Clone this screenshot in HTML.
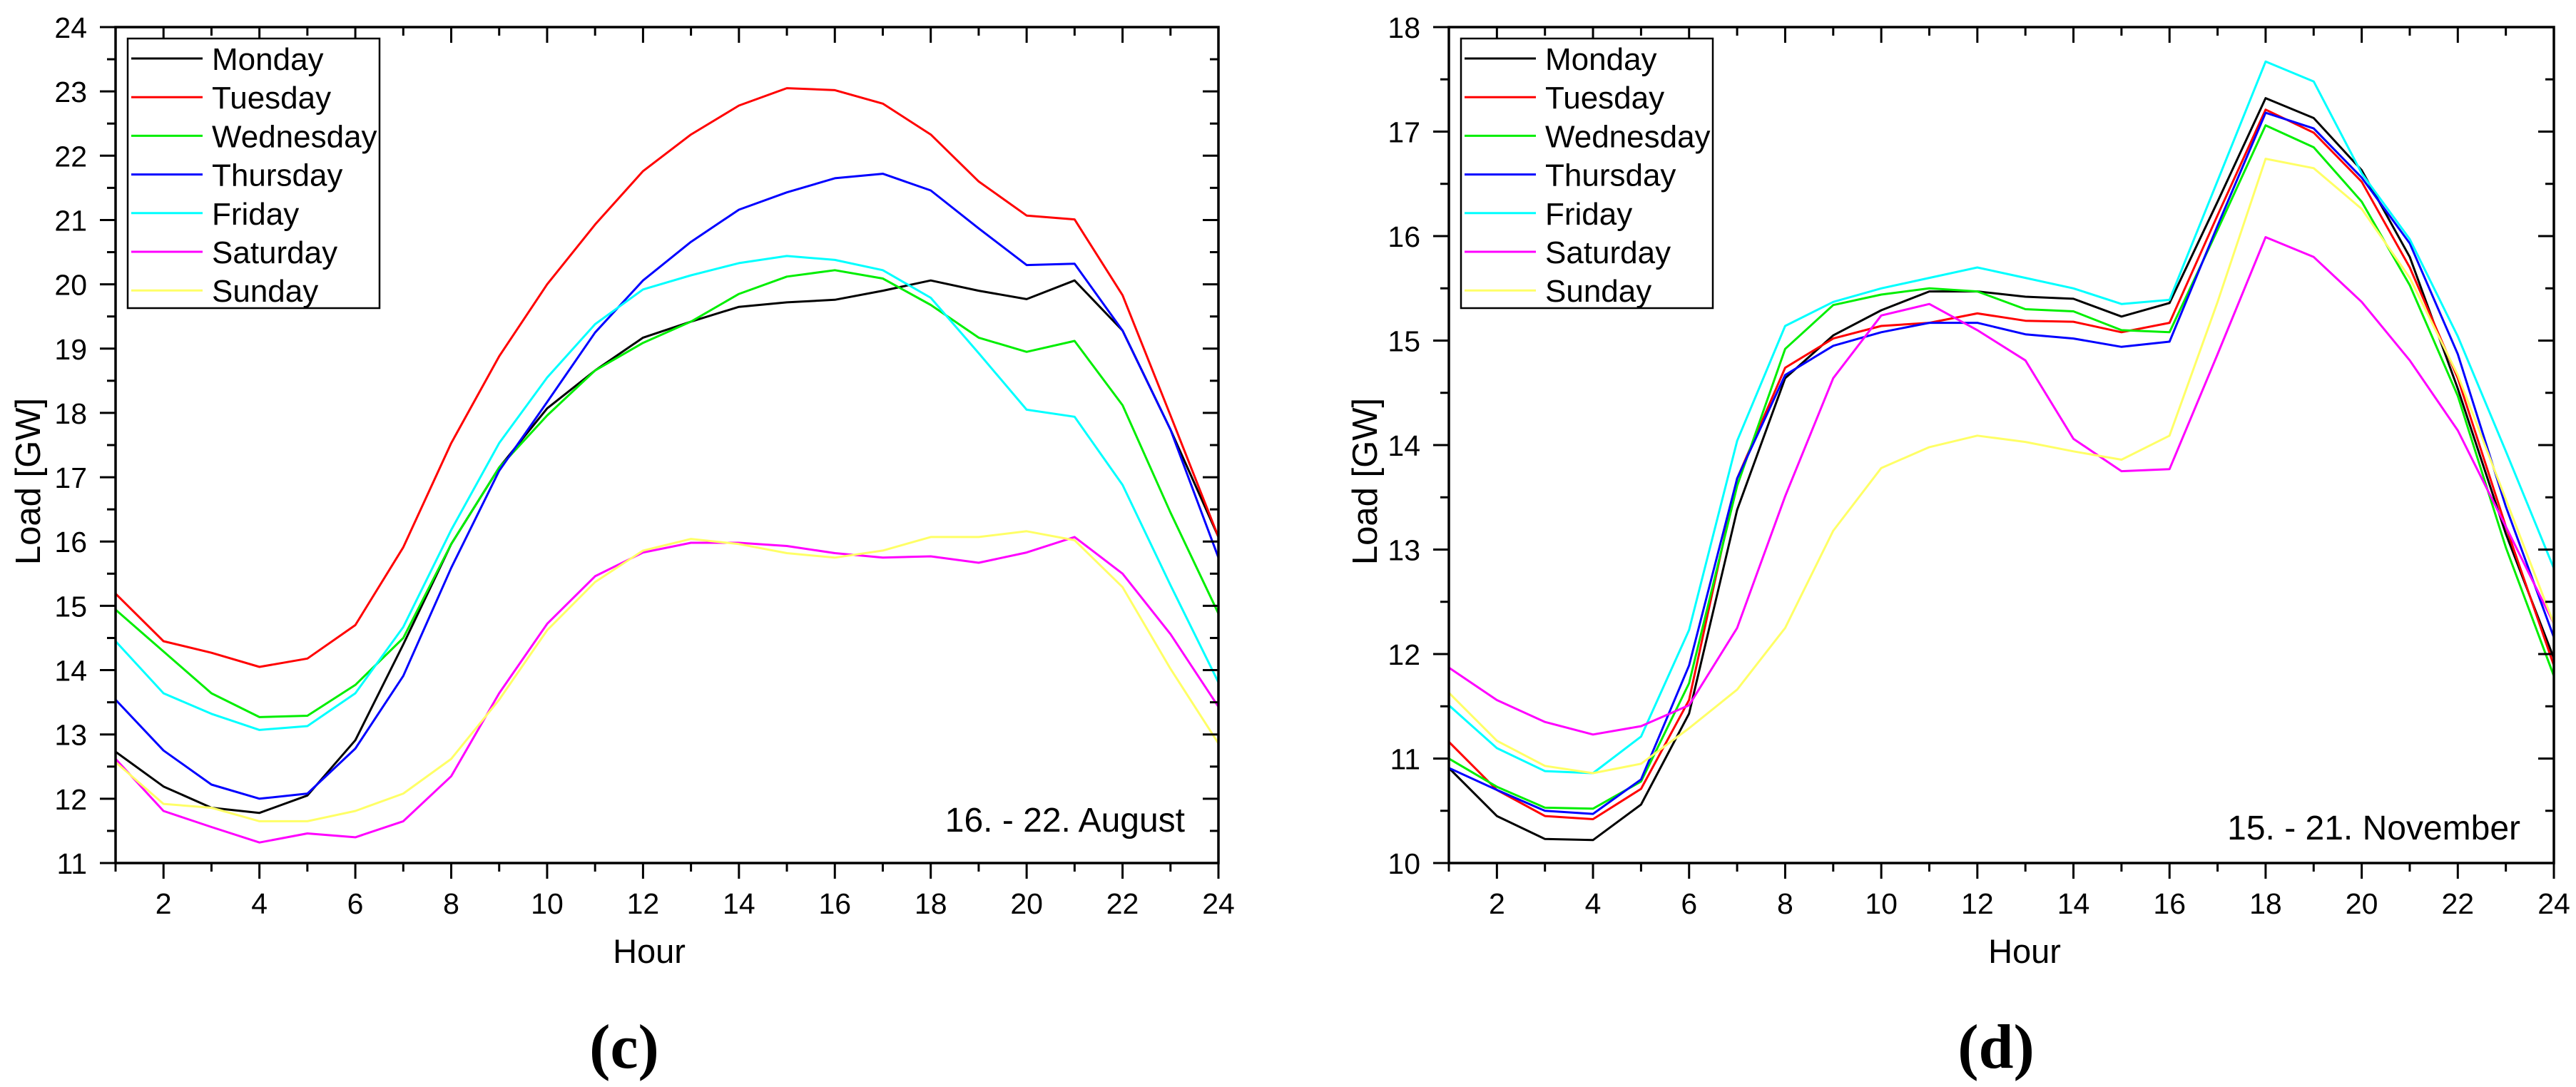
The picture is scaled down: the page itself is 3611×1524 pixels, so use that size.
<!DOCTYPE html>
<html><head><meta charset="utf-8"><style>
html,body{margin:0;padding:0;background:#fff;}
svg{display:block;font-family:"Liberation Sans",sans-serif;}
</style></head><body>
<svg id="fig" width="3611" height="1524" viewBox="0 0 3611 1524" xmlns="http://www.w3.org/2000/svg"></svg>
<script>
const hours = [1,2,3,4,5,6,7,8,9,10,11,12,13,14,15,16,17,18,19,20,21,22,23,24];
const dayNames = ["Monday","Tuesday","Wednesday","Thursday","Friday","Saturday","Sunday"];
const dayColors = ["#000000","#ff0000","#00ee00","#0000ff","#00ffff","#ff00ff","#ffff66"];
const xTickLabels = [2,4,6,8,10,12,14,16,18,20,22,24];
const augTickLabels = [11,12,13,14,15,16,17,18,19,20,21,22,23,24];
const novTickLabels = [10,11,12,13,14,15,16,17,18];

const augMonday = [12.73,12.19,11.86,11.78,12.05,12.91,14.4,15.96,17.15,18.07,18.66,19.17,19.42,19.65,19.72,19.76,19.9,20.06,19.9,19.77,20.06,19.28,17.74,16.07];
const augTuesday = [15.19,14.45,14.27,14.05,14.18,14.7,15.91,17.53,18.88,20.0,20.93,21.76,22.33,22.78,23.05,23.02,22.81,22.33,21.6,21.07,21.01,19.83,17.96,16.07];
const augWednesday = [14.94,14.29,13.64,13.27,13.29,13.77,14.5,15.96,17.15,17.96,18.66,19.09,19.42,19.85,20.12,20.22,20.09,19.68,19.17,18.95,19.12,18.12,16.45,14.88];
const augThursday = [13.54,12.75,12.22,12.0,12.08,12.78,13.91,15.59,17.1,18.17,19.25,20.06,20.66,21.16,21.43,21.65,21.72,21.46,20.87,20.3,20.32,19.28,17.74,15.75];
const augFriday = [14.45,13.64,13.32,13.07,13.13,13.64,14.67,16.18,17.53,18.55,19.38,19.92,20.14,20.33,20.44,20.38,20.22,19.79,18.93,18.05,17.94,16.88,15.32,13.81];
const augSaturday = [12.62,11.81,11.56,11.32,11.46,11.4,11.65,12.35,13.64,14.72,15.46,15.83,15.98,15.98,15.93,15.82,15.75,15.77,15.67,15.83,16.07,15.5,14.56,13.43];
const augSunday = [12.57,11.92,11.86,11.65,11.65,11.81,12.08,12.62,13.54,14.62,15.37,15.86,16.04,15.96,15.82,15.75,15.86,16.07,16.07,16.16,16.02,15.29,14.02,12.86];

const novMonday = [10.91,10.45,10.23,10.22,10.56,11.43,13.38,14.64,15.05,15.29,15.47,15.47,15.42,15.4,15.23,15.36,16.33,17.32,17.13,16.63,15.8,14.54,13.15,11.96];
const novTuesday = [11.16,10.7,10.45,10.42,10.71,11.56,13.68,14.74,15.02,15.14,15.17,15.26,15.19,15.18,15.08,15.17,16.2,17.21,16.99,16.52,15.7,14.64,13.22,11.89];
const novWednesday = [11.0,10.73,10.53,10.52,10.78,11.72,13.61,14.92,15.34,15.44,15.5,15.47,15.3,15.28,15.1,15.08,16.06,17.06,16.85,16.33,15.53,14.47,13.02,11.79];
const novThursday = [10.91,10.7,10.5,10.47,10.8,11.89,13.68,14.67,14.95,15.08,15.17,15.17,15.06,15.02,14.94,14.99,16.1,17.18,17.03,16.56,15.93,14.87,13.41,12.16];
const novFriday = [11.51,11.1,10.88,10.86,11.21,12.23,14.04,15.14,15.37,15.5,15.6,15.7,15.6,15.5,15.35,15.39,16.53,17.67,17.48,16.6,15.97,15.04,13.94,12.82];
const novSaturday = [11.87,11.56,11.35,11.23,11.31,11.51,12.25,13.51,14.64,15.24,15.35,15.1,14.81,14.06,13.75,13.77,14.87,15.99,15.8,15.37,14.81,14.14,13.22,12.29];
const novSunday = [11.63,11.17,10.93,10.86,10.95,11.29,11.66,12.25,13.18,13.78,13.98,14.09,14.03,13.94,13.86,14.09,15.37,16.74,16.65,16.26,15.6,14.67,13.48,12.29];

const augSeries = [augMonday,augTuesday,augWednesday,augThursday,augFriday,augSaturday,augSunday];
const novSeries = [novMonday,novTuesday,novWednesday,novThursday,novFriday,novSaturday,novSunday];

const NS = "http://www.w3.org/2000/svg";
const svg = document.getElementById('fig');
function mk(tag, attrs, parent){
  const e = document.createElementNS(NS, tag);
  for (const k in attrs) e.setAttribute(k, attrs[k]);
  (parent||svg).appendChild(e);
  return e;
}

function chart(cfg){
  const g = mk('g', {});
  
  
  const L = cfg.left, R = cfg.right, T = 38, B = 1210;
  const xs = h => L + (h - 1) / 23 * (R - L);
  const ys = v => B - (v - cfg.ymin) / (cfg.ymax - cfg.ymin) * (B - T);

  // series
  cfg.series.forEach((vals, i) => {
    const pts = vals.map((v, j) => xs(hours[j]).toFixed(1) + ',' + ys(v).toFixed(1)).join(' ');
    const pl = mk('polyline', {points: pts, fill: 'none', stroke: dayColors[i], 'stroke-width': 3, 'stroke-linejoin': 'round'}, g);
    
    
  });

  // frame
  const fr = mk('rect', {x: L, y: T, width: R - L, height: B - T, fill: 'none', stroke: '#000', 'stroke-width': 3.5}, g);
  
  

  // x ticks
  for (let h = 1; h <= 24; h++) {
    const x = xs(h), major = h % 2 === 0, len = major ? 22 : 12;
    mk('line', {x1: x, y1: B, x2: x, y2: B + len, stroke: '#000', 'stroke-width': 3}, g);
    mk('line', {x1: x, y1: T, x2: x, y2: T + len, stroke: '#000', 'stroke-width': 3}, g);
  }
  xTickLabels.forEach(h => {
    const t = mk('text', {x: xs(h), y: 1281, 'font-size': 41, 'text-anchor': 'middle'}, g);
    t.textContent = h;
    
    
  });
  // y ticks
  for (let v = cfg.ymin; v <= cfg.ymax + 1e-9; v += 0.5) {
    const y = ys(v), major = Math.abs(v - Math.round(v)) < 1e-9, len = major ? 22 : 12;
    mk('line', {x1: L - len, y1: y, x2: L, y2: y, stroke: '#000', 'stroke-width': 3}, g);
    mk('line', {x1: R - len, y1: y, x2: R, y2: y, stroke: '#000', 'stroke-width': 3}, g);
  }
  cfg.yTicks.forEach(v => {
    const t = mk('text', {x: L - 40, y: ys(v) + 15, 'font-size': 41, 'text-anchor': 'end'}, g);
    t.textContent = v;
    
    
  });

  // axis titles
  const xt = mk('text', {x: cfg.hourX, y: 1350, 'font-size': 47, 'text-anchor': 'middle'}, g);
  xt.textContent = 'Hour';
  
  
  const yt = mk('text', {x: 0, y: 0, 'font-size': 49, 'text-anchor': 'middle', transform: 'translate(' + cfg.loadX + ',675) rotate(-90)'}, g);
  yt.textContent = 'Load [GW]';
  
  

  // annotation
  const an = mk('text', {x: cfg.annX, y: cfg.annY, 'font-size': 48, 'text-anchor': 'end'}, g);
  an.textContent = cfg.ann;
  
  

  // legend
  const lg = mk('g', {}, g);
  
  
  const lx = L + 17;
  mk('rect', {x: lx, y: 54, width: 353, height: 378, fill: '#fff', stroke: '#000', 'stroke-width': 2.5}, lg);
  dayNames.forEach((d, i) => {
    const ry = 82 + 54.2 * i;
    const e = mk('g', {}, lg);
    
    
    mk('line', {x1: lx + 5, y1: ry, x2: lx + 105, y2: ry, stroke: dayColors[i], 'stroke-width': 3}, e);
    const t = mk('text', {x: lx + 118, y: ry + 16, 'font-size': 44}, e);
    t.textContent = d;
  });

  // panel label
  const pl = mk('text', {x: cfg.panelX, y: 1497, 'font-size': 88, 'font-weight': 'bold', 'text-anchor': 'middle', 'font-family': '"Liberation Serif", serif'}, g);
  pl.textContent = cfg.panel;
  
  
}

chart({name: 'august-chart', left: 162, right: 1708, ymin: 11, ymax: 24, yTicks: augTickLabels, series: augSeries,
  hourX: 910, loadX: 56, ann: '16. - 22. August', annX: 1661, annY: 1166, panel: '(c)', panelX: 875});
chart({name: 'november-chart', left: 2031, right: 3580, ymin: 10, ymax: 18, yTicks: novTickLabels, series: novSeries,
  hourX: 2838, loadX: 1930, ann: '15. - 21. November', annX: 3533, annY: 1177, panel: '(d)', panelX: 2798});
</script>
</body></html>
